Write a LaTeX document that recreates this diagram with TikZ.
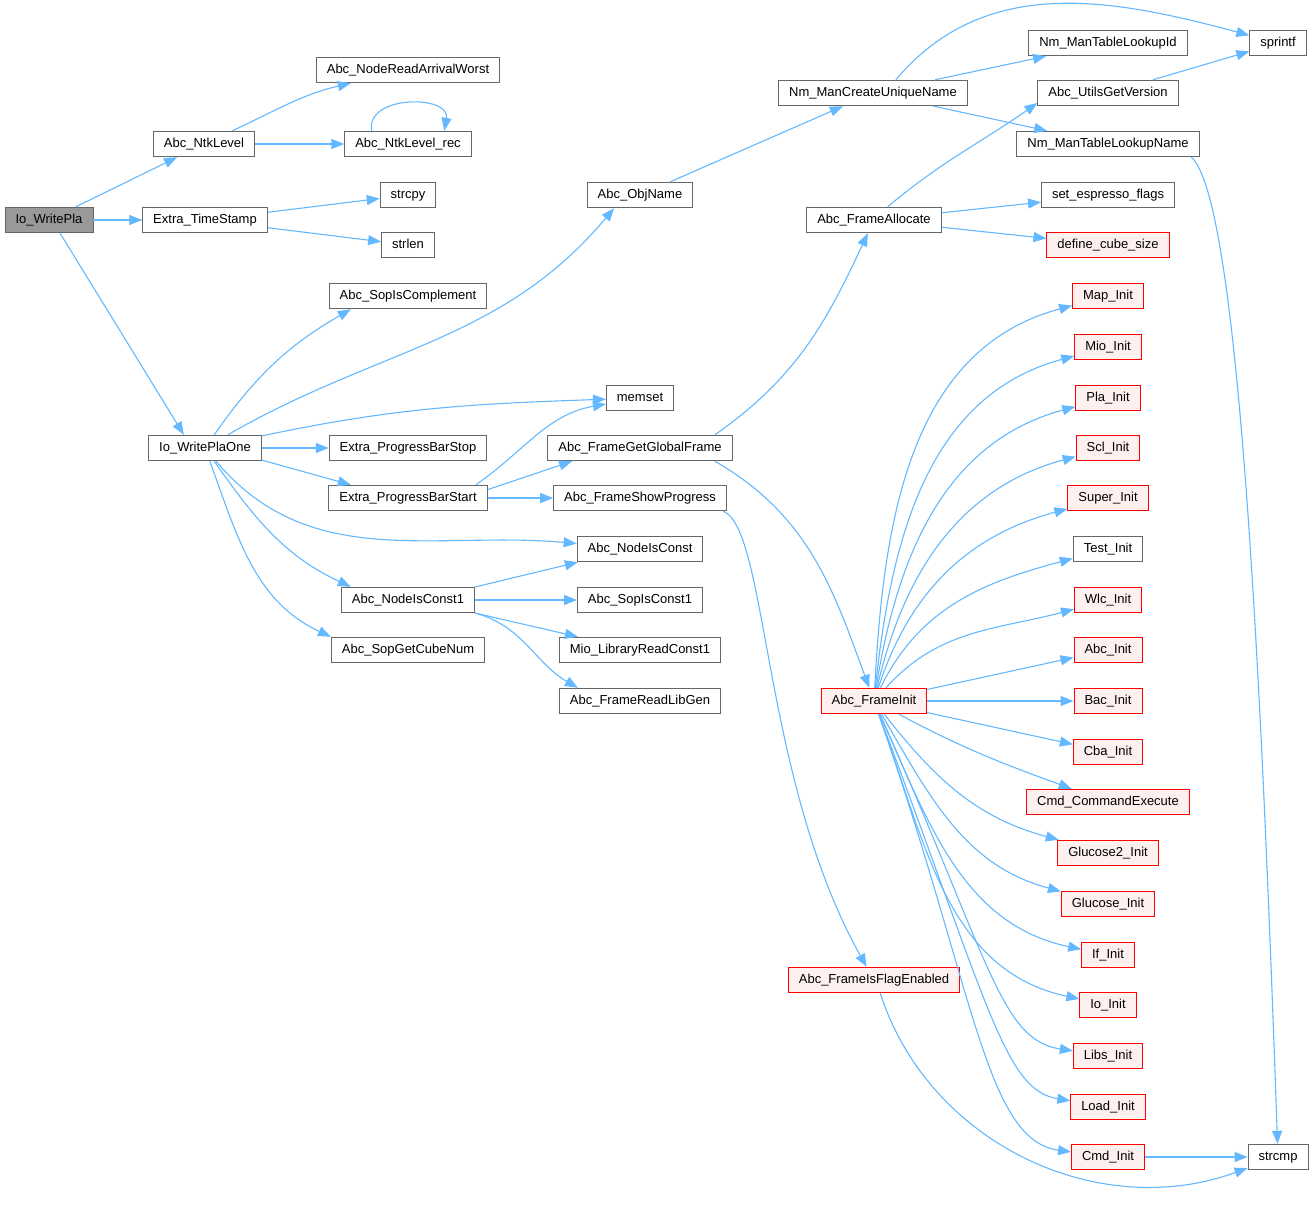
\documentclass[tikz,border=0pt]{standalone}
\usepackage{fontspec}
\setmainfont{Liberation Sans}
\usetikzlibrary{arrows.meta}
\definecolor{edgeblue}{HTML}{63B8FF}
\definecolor{boxgray}{HTML}{666666}
\definecolor{rootgray}{HTML}{999999}
\definecolor{redfill}{HTML}{FFF0F0}
\tikzstyle{fn-node}=[draw=boxgray,fill=white,line width=0.9pt,inner xsep=10.5pt,inner ysep=0pt,minimum height=25.5pt,text height=9.5pt,text depth=2.5pt,font=\fontsize{13}{15}\selectfont]
\tikzstyle{red-node}=[fn-node,draw=red,fill=redfill]
\tikzstyle{root-node}=[fn-node,fill=rootgray]
\tikzstyle{blue-line}=[draw=edgeblue,line width=1.1pt]

\begin{document}
\begin{tikzpicture}[x=1pt,y=1pt]
        \useasboundingbox (0,0) rectangle (1314,-1208);
        \begin{scope}
            \node (wpla)[root-node] at (49,-220) {Io\_WritePla};
            \node (ntk)[fn-node] at (204,-144) {Abc\_NtkLevel};
            \node (tstamp)[fn-node] at (205,-220) {Extra\_TimeStamp};
            \node (wplaone)[fn-node] at (205,-448) {Io\_WritePlaOne};
            \node (arrw)[fn-node] at (408,-70) {Abc\_NodeReadArrivalWorst};
            \node (ntkrec)[fn-node] at (408,-144) {Abc\_NtkLevel\_rec};
            \node (strcpy)[fn-node] at (408,-195) {strcpy};
            \node (strlen)[fn-node] at (408,-245) {strlen};
            \node (sopcompl)[fn-node] at (408,-296) {Abc\_SopIsComplement};
            \node (pbstop)[fn-node] at (408,-448) {Extra\_ProgressBarStop};
            \node (pbstart)[fn-node] at (408,-498) {Extra\_ProgressBarStart};
            \node (const1)[fn-node] at (408,-600) {Abc\_NodeIsConst1};
            \node (cubenum)[fn-node] at (408,-650) {Abc\_SopGetCubeNum};
            \node (objname)[fn-node] at (640,-195) {Abc\_ObjName};
            \node (memset)[fn-node] at (640,-398) {memset};
            \node (globfr)[fn-node] at (640,-448) {Abc\_FrameGetGlobalFrame};
            \node (showprog)[fn-node] at (640,-498) {Abc\_FrameShowProgress};
            \node (isconst)[fn-node] at (640,-549) {Abc\_NodeIsConst};
            \node (sopconst1)[fn-node] at (640,-600) {Abc\_SopIsConst1};
            \node (mioconst1)[fn-node] at (640,-650) {Mio\_LibraryReadConst1};
            \node (libgen)[fn-node] at (640,-701) {Abc\_FrameReadLibGen};
            \node (uniqname)[fn-node] at (873,-93) {Nm\_ManCreateUniqueName};
            \node (fralloc)[fn-node] at (874,-220) {Abc\_FrameAllocate};
            \node (frinit)[red-node] at (874,-701) {Abc\_FrameInit};
            \node (flagen)[red-node] at (874,-980) {Abc\_FrameIsFlagEnabled};
            \node (lookupid)[fn-node] at (1108,-43) {Nm\_ManTableLookupId};
            \node (version)[fn-node] at (1108,-93) {Abc\_UtilsGetVersion};
            \node (lookupname)[fn-node] at (1108,-144) {Nm\_ManTableLookupName};
            \node (espresso)[fn-node] at (1108,-195) {set\_espresso\_flags};
            \node (cubesize)[red-node] at (1108,-245) {define\_cube\_size};
            \node (mapinit)[red-node] at (1108,-296) {Map\_Init};
            \node (mioinit)[red-node] at (1108,-347) {Mio\_Init};
            \node (plainit)[red-node] at (1108,-398) {Pla\_Init};
            \node (sclinit)[red-node] at (1108,-448) {Scl\_Init};
            \node (superinit)[red-node] at (1108,-498) {Super\_Init};
            \node (testinit)[fn-node] at (1108,-549) {Test\_Init};
            \node (wlcinit)[red-node] at (1108,-600) {Wlc\_Init};
            \node (abcinit)[red-node] at (1108,-650) {Abc\_Init};
            \node (bacinit)[red-node] at (1108,-701) {Bac\_Init};
            \node (cbainit)[red-node] at (1108,-752) {Cba\_Init};
            \node (cmdexec)[red-node] at (1108,-802) {Cmd\_CommandExecute};
            \node (gluc2)[red-node] at (1108,-853) {Glucose2\_Init};
            \node (gluc)[red-node] at (1108,-904) {Glucose\_Init};
            \node (ifinit)[red-node] at (1108,-955) {If\_Init};
            \node (ioinit)[red-node] at (1108,-1005) {Io\_Init};
            \node (libsinit)[red-node] at (1108,-1056) {Libs\_Init};
            \node (loadinit)[red-node] at (1108,-1107) {Load\_Init};
            \node (cmdinit)[red-node] at (1108,-1157) {Cmd\_Init};
            \node (sprintf)[fn-node] at (1278,-43) {sprintf};
            \node (strcmp)[fn-node] at (1278,-1157) {strcmp};
        \end{scope}

        \begin{scope}[>={Triangle[length=13pt,width=10pt]}, every edge/.style=blue-line]
            \path [->] (wpla) edge node {} (ntk);
            \path [->] (wpla) edge node {} (tstamp);
            \path [->] (wpla.-50) edge node {} (wplaone.148);
            \path [->] (ntk) edge [out=25,in=193] node {} (arrw);
            \path [->] (ntk) edge node {} (ntkrec);
            \path [->] (ntkrec.160) edge [out=100,in=80,looseness=1.3] node {} (ntkrec.20);
            \path [->] (tstamp) edge node {} (strcpy);
            \path [->] (tstamp) edge node {} (strlen);
            \path [->] (wplaone) edge [out=55,in=210] node {} (sopcompl.193);
            \path [->] (wplaone) edge [out=30,in=230] node {} (objname.207);
            \path [->] (wplaone) edge [out=12,in=182] node {} (memset);
            \path [->] (wplaone) edge node {} (pbstop);
            \path [->] (wplaone.-12) edge node {} (pbstart.167);
            \path [->] (wplaone) edge [out=-50,in=175] node {} (isconst);
            \path [->] (wplaone) edge [out=-55,in=155] node {} (const1.167);
            \path [->] (wplaone) edge [out=-70,in=155] node {} (cubenum.north west);
            \path [->] (pbstart.11) edge [out=35,in=190] node {} (memset);
            \path [->] (pbstart.6) edge node {} (globfr.191);
            \path [->] (pbstart) edge node {} (showprog);
            \path [->] (const1.11) edge node {} (isconst.192);
            \path [->] (const1) edge node {} (sopconst1);
            \path [->] (const1.-11) edge node {} (mioconst1.168);
            \path [->] (const1.-11) edge [out=-15,in=150] node {} (libgen.168);
            \path [->] (objname) edge node {} (uniqname);
            \path [->] (globfr.10) edge [out=35,in=245] node {} (fralloc);
            \path [->] (globfr.-10) edge [out=-30,in=110] node {} (frinit);
            \draw [->, blue-line] (showprog.-9) .. controls (768,-530) and (762,-780) .. (flagen);
            \path [->] (uniqname.30) edge [out=50,in=165] node {} (sprintf);
            \path [->] (uniqname) edge node {} (lookupid);
            \path [->] (uniqname) edge node {} (lookupname);
            \path [->] (version) edge node {} (sprintf);
            \path [->] (fralloc.44) edge [out=40,in=215] node {} (version.188);
            \path [->] (fralloc) edge node {} (espresso);
            \path [->] (fralloc) edge node {} (cubesize);
            \draw [->, blue-line] (lookupname.-9) .. controls (1240,-200) and (1262,-700) .. (strcmp);
            % fan out of the frame init
            \path [->] (frinit) edge [out=87,in=195] node {} (mapinit);
            \path [->] (frinit) edge [out=84,in=195] node {} (mioinit);
            \path [->] (frinit) edge [out=81,in=195] node {} (plainit);
            \path [->] (frinit) edge [out=77,in=195] node {} (sclinit);
            \path [->] (frinit) edge [out=72,in=195] node {} (superinit);
            \path [->] (frinit) edge [out=64,in=195] node {} (testinit);
            \path [->] (frinit) edge [out=48,in=195] node {} (wlcinit);
            \path [->] (frinit) edge node {} (abcinit);
            \path [->] (frinit) edge node {} (bacinit);
            \path [->] (frinit) edge node {} (cbainit);
            \path [->] (frinit) edge [out=-28,in=160] node {} (cmdexec);
            \path [->] (frinit) edge [out=-52,in=165] node {} (gluc2);
            \path [->] (frinit) edge [out=-60,in=165] node {} (gluc);
            \path [->] (frinit) edge [out=-66,in=168] node {} (ifinit);
            \path [->] (frinit) edge [out=-70,in=168] node {} (ioinit);
            \draw [->, blue-line] (frinit) .. controls (990,-960) and (1000,-1040) .. (libsinit);
            \draw [->, blue-line] (frinit) .. controls (990,-1010) and (1005,-1090) .. (loadinit);
            \draw [->, blue-line] (frinit) .. controls (975,-990) and (985,-1140) .. (cmdinit);
            \path [->] (cmdinit) edge node {} (strcmp);
            \path [->] (flagen.-65) edge [out=-72,in=200] node {} (strcmp);
        \end{scope}

    \end{tikzpicture}
\end{document}
